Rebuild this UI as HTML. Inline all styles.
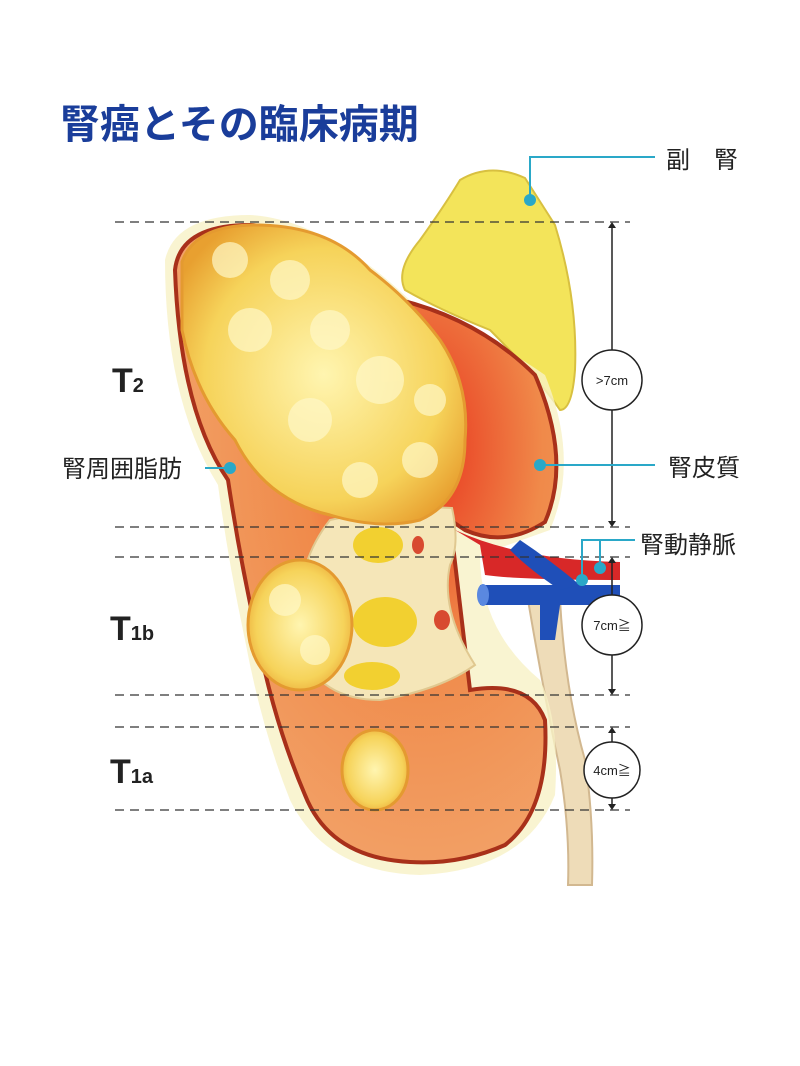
<!DOCTYPE html>
<html><head><meta charset="utf-8"><style>
html,body{margin:0;padding:0;background:#fff;}
svg{display:block;}
text{font-family:"Liberation Sans","Noto Sans CJK JP",sans-serif;}
</style></head><body>
<svg width="800" height="1066" viewBox="0 0 800 1066" xmlns="http://www.w3.org/2000/svg">
<defs>
<radialGradient id="kid" cx="0.65" cy="0.35" r="0.7">
<stop offset="0" stop-color="#e8321c"/><stop offset="0.45" stop-color="#f08a4a"/><stop offset="1" stop-color="#f2a268"/>
</radialGradient>
<radialGradient id="tum" cx="0.5" cy="0.5" r="0.6">
<stop offset="0" stop-color="#fff5b0"/><stop offset="0.7" stop-color="#f6d35a"/><stop offset="1" stop-color="#e8a030"/>
</radialGradient>
</defs>
<text x="60" y="138" font-size="40" font-weight="bold" fill="#1a3d9a">腎癌とその臨床病期</text>

<!-- adrenal -->
<path d="M460 180 Q490 162 525 178 L555 225 Q578 300 575 370 Q572 410 560 410 Q540 380 490 330 Q440 310 405 290 Q395 270 420 240 Q445 205 460 180Z" fill="#f3e45a" stroke="#d8c040" stroke-width="2"/>

<!-- ureter -->
<path d="M528 600 Q545 700 560 770 Q570 830 568 885 L592 885 Q594 820 585 760 Q565 690 560 600Z" fill="#eedcb8" stroke="#d2b890" stroke-width="2"/>

<!-- fat halo -->
<path d="M165 260 Q175 215 250 215 Q330 220 420 310 Q480 330 545 375 Q580 460 550 530 L480 555 Q480 630 540 680 Q560 720 555 795 Q525 870 420 875 Q325 872 290 800 Q262 730 245 640 Q228 560 218 485 Q165 400 165 260Z" fill="#f7f1c6" opacity="0.8"/>
<!-- kidney -->
<path d="M175 270 Q180 225 250 225 Q330 228 400 300 Q480 320 535 375 Q572 460 545 522 Q505 548 465 530 L450 520 L470 690 Q530 680 545 720 Q550 810 505 845 Q460 865 410 862 Q330 858 305 795 Q275 725 258 640 Q240 560 228 480 Q180 410 175 270Z" fill="url(#kid)" stroke="#a8301a" stroke-width="4"/>
<!-- sinus -->
<path d="M330 520 Q400 505 452 508 Q460 545 450 565 Q440 610 475 665 Q440 690 380 700 Q320 700 300 650 Q290 570 330 520Z" fill="#f5e6b8" stroke="#e0c890" stroke-width="2"/>
<ellipse cx="378" cy="545" rx="25" ry="18" fill="#f2d030"/>
<ellipse cx="385" cy="622" rx="32" ry="25" fill="#f2d030"/>
<ellipse cx="372" cy="676" rx="28" ry="14" fill="#f2d030"/>
<ellipse cx="418" cy="545" rx="6" ry="9" fill="#d84a30"/>
<ellipse cx="442" cy="620" rx="8" ry="10" fill="#d84a30"/>

<!-- vessels -->
<path d="M455 530 Q520 560 620 562 L620 580 Q520 580 485 575 L480 545Z" fill="#d82828"/>
<path d="M480 585 L620 585 L620 605 L560 605 L555 640 L540 640 L540 605 L480 605Z" fill="#1f4fb8"/>
<path d="M520 540 Q550 560 580 585 L560 590 Q530 570 510 550Z" fill="#1f4fb8"/>
<ellipse cx="483" cy="595" rx="6" ry="11" fill="#5a88e0"/>

<!-- tumors -->
<path d="M182 262 Q195 225 255 225 Q330 225 370 270 Q410 300 440 340 Q470 385 465 440 Q465 500 420 520 Q380 530 330 515 Q265 500 235 440 Q195 395 182 330Z" fill="url(#tum)" stroke="#e49a30" stroke-width="3"/>
<g fill="#fff8c8" opacity="0.7">
<circle cx="230" cy="260" r="18"/><circle cx="290" cy="280" r="20"/><circle cx="250" cy="330" r="22"/><circle cx="330" cy="330" r="20"/><circle cx="380" cy="380" r="24"/><circle cx="310" cy="420" r="22"/><circle cx="420" cy="460" r="18"/><circle cx="360" cy="480" r="18"/><circle cx="430" cy="400" r="16"/>
</g>
<ellipse cx="300" cy="625" rx="52" ry="65" fill="url(#tum)" stroke="#e49a30" stroke-width="3"/>
<circle cx="285" cy="600" r="16" fill="#fff8c8" opacity="0.7"/><circle cx="315" cy="650" r="15" fill="#fff8c8" opacity="0.7"/>
<ellipse cx="375" cy="770" rx="33" ry="40" fill="url(#tum)" stroke="#e49a30" stroke-width="3"/>

<!-- dashed lines -->
<g stroke="#333" stroke-width="1.3" stroke-dasharray="9,6">
<line x1="115" y1="222" x2="630" y2="222"/><line x1="115" y1="527" x2="630" y2="527"/>
<line x1="115" y1="557" x2="630" y2="557"/><line x1="115" y1="695" x2="630" y2="695"/>
<line x1="115" y1="727" x2="630" y2="727"/><line x1="115" y1="810" x2="630" y2="810"/>
</g>
<g stroke="#222" stroke-width="1.5" fill="#fff">
<line x1="612" y1="224" x2="612" y2="525"/><line x1="612" y1="559" x2="612" y2="693"/><line x1="612" y1="729" x2="612" y2="808"/>
<circle cx="612" cy="380" r="30"/><circle cx="612" cy="625" r="30"/><circle cx="612" cy="770" r="28"/>
</g>
<g fill="#222">
<path d="M608 228 L616 228 L612 222Z"/><path d="M608 521 L616 521 L612 527Z"/>
<path d="M608 563 L616 563 L612 557Z"/><path d="M608 689 L616 689 L612 695Z"/>
<path d="M608 733 L616 733 L612 727Z"/><path d="M608 804 L616 804 L612 810Z"/>
</g>
<g font-size="13" text-anchor="middle" fill="#222">
<text x="612" y="385">&gt;7cm</text><text x="612" y="630">7cm≧</text><text x="612" y="775">4cm≧</text>
</g>

<!-- leader lines -->
<g stroke="#2aa8c8" stroke-width="2" fill="none">
<polyline points="530,200 530,157 655,157"/>
<line x1="540" y1="465" x2="655" y2="465"/>
<line x1="205" y1="468" x2="230" y2="468"/>
<polyline points="582,580 582,540 635,540"/><line x1="600" y1="568" x2="600" y2="540"/>
</g>
<g fill="#2aa8c8"><circle cx="530" cy="200" r="6"/><circle cx="540" cy="465" r="6"/><circle cx="230" cy="468" r="6"/><circle cx="582" cy="580" r="6"/><circle cx="600" cy="568" r="6"/></g>

<g fill="#222" font-size="24">
<text x="666" y="168">副　腎</text>
<text x="668" y="476">腎皮質</text>
<text x="62" y="477">腎周囲脂肪</text>
<text x="640" y="553">腎動静脈</text>
</g>
<g fill="#222" font-weight="bold">
<text x="112" y="392" font-size="34">T<tspan font-size="20">2</tspan></text>
<text x="110" y="640" font-size="34">T<tspan font-size="20">1b</tspan></text>
<text x="110" y="783" font-size="34">T<tspan font-size="20">1a</tspan></text>
</g>
</svg>
</body></html>
